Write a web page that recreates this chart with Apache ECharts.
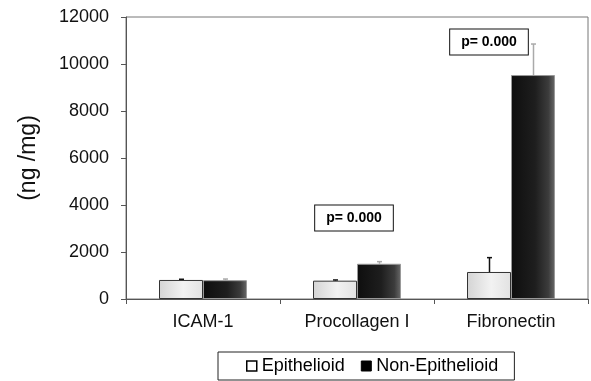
<!DOCTYPE html>
<html lang="en" style="height: 100%">
<head>
  <meta charset="utf-8">
</head>
<body style="height: 100%; margin: 0; background: #fff">
  <div id="container" style="width: 591px; height: 381px"></div>

  <script type="text/javascript" src="https://cdn.jsdelivr.net/npm/echarts@6/dist/echarts.min.js"></script>

  <script type="text/javascript">
    // data
    var categories = ['ICAM-1', 'Procollagen I', 'Fibronectin'];
    var epithelioid = [810, 780, 1150];
    var epithelioidErr = [840, 810, 1760];       // upper end of error bar
    var nonEpithelioid = [800, 1500, 9530];
    var nonEpithelioidErr = [850, 1590, 10850];
    var yTicks = [0, 2000, 4000, 6000, 8000, 10000, 12000];
    // p-value boxes: [category, value at box centre]
    var pBoxes = [['Procollagen I', 3450], ['Fibronectin', 10940]];
    var pText = 'p= 0.000';

    var FONT = '"Liberation Sans", Arial, sans-serif';
    var BAR_FRAC = 0.2857;   // bar width / band width

    var dom = document.getElementById('container');
    var myChart = echarts.init(dom, null, { renderer: 'canvas' });

    var epiColor = new echarts.graphic.LinearGradient(0, 0, 1, 0, [
      { offset: 0, color: '#d4d4d4' },
      { offset: 0.55, color: '#f2f2f2' },
      { offset: 1, color: '#e2e2e2' }
    ]);
    var nonColor = new echarts.graphic.LinearGradient(0, 0, 1, 0, [
      { offset: 0, color: '#0e0e0e' },
      { offset: 0.55, color: '#1e1e1e' },
      { offset: 0.85, color: '#3c3c3c' },
      { offset: 1, color: '#6a6a6a' }
    ]);

    function errorSeries(name, tops, bases, side, color) {
      return {
        type: 'custom',
        name: name + ' err',
        z: 1,
        silent: true,
        data: tops.map(function (v, i) { return [i, bases[i], v]; }),
        renderItem: function (params, api) {
          var band = api.size([1, 0])[0];
          var off = side * band * BAR_FRAC / 2;
          var p0 = api.coord([api.value(0), api.value(1)]);
          var p1 = api.coord([api.value(0), api.value(2)]);
          var x = Math.round(p0[0] + off) + 0.5;
          return {
            type: 'group',
            children: [
              { type: 'line', shape: { x1: x, y1: p0[1], x2: x, y2: p1[1] },
                style: { stroke: color, lineWidth: 1.5 } },
              { type: 'line', shape: { x1: x - 2.5, y1: p1[1], x2: x + 2.5, y2: p1[1] },
                style: { stroke: color, lineWidth: 1.5 } }
            ]
          };
        }
      };
    }

    var option = {
      animation: false,
      textStyle: { fontFamily: FONT },
      grid: {
        left: 126, right: 3, top: 17, bottom: 82,
        show: true, borderColor: '#777', borderWidth: 1
      },
      legend: {
        left: 218, top: 352,
        padding: [5, 16, 5, 28],
        borderColor: '#222', borderWidth: 1,
        itemWidth: 10, itemHeight: 10, itemGap: 16,
        textStyle: { fontSize: 18, color: '#000', fontFamily: FONT },
        data: [
          { name: 'Epithelioid', icon: 'rect',
            itemStyle: { color: '#fff', borderColor: '#000', borderWidth: 1.5 } },
          { name: 'Non-Epithelioid', icon: 'rect',
            itemStyle: { color: '#000', borderColor: '#000', borderWidth: 1 } }
        ]
      },
      xAxis: {
        type: 'category',
        data: categories,
        axisLine: { lineStyle: { color: '#555' } },
        axisTick: { show: true, length: 5, lineStyle: { color: '#555' } },
        axisLabel: { fontSize: 18, color: '#111', margin: 14, fontFamily: FONT }
      },
      yAxis: {
        type: 'value',
        min: yTicks[0], max: yTicks[yTicks.length - 1], interval: 2000,
        name: '(ng /mg)',
        nameLocation: 'middle',
        nameGap: 86,
        nameTextStyle: { fontSize: 23, color: '#111', fontFamily: FONT },
        axisLine: { show: true, lineStyle: { color: '#555' } },
        axisTick: { show: true, length: 5, lineStyle: { color: '#555' } },
        splitLine: { show: false },
        axisLabel: {
          fontSize: 18, color: '#111', margin: 17, fontFamily: FONT,
          formatter: function (v) { return String(v); }
        }
      },
      series: [
        {
          name: 'Epithelioid', type: 'bar', data: epithelioid,
          barWidth: (BAR_FRAC * 100) + '%', barGap: '0%',
          itemStyle: { color: epiColor, borderColor: '#333', borderWidth: 1 },
          z: 2
        },
        {
          name: 'Non-Epithelioid', type: 'bar', data: nonEpithelioid,
          barWidth: (BAR_FRAC * 100) + '%', barGap: '0%',
          itemStyle: { color: nonColor, borderColor: '#999', borderWidth: 1 },
          z: 2
        },
        errorSeries('Epithelioid', epithelioidErr, epithelioid, -1, '#111'),
        errorSeries('Non-Epithelioid', nonEpithelioidErr, nonEpithelioid, 1, '#aaa'),
        {
          type: 'custom',
          name: 'p',
          z: 5,
          silent: true,
          data: pBoxes.map(function (b) { return [categories.indexOf(b[0]), b[1]]; }),
          renderItem: function (params, api) {
            var band = api.size([1, 0])[0];
            var p = api.coord([api.value(0), api.value(1)]);
            // Fibronectin box sits over the first bar
            var dx = params.dataIndex === 1 ? -band * BAR_FRAC / 2 : -3;
            return {
              type: 'text',
              x: Math.round(p[0] + dx), y: Math.round(p[1]),
              style: {
                text: pText,
                font: 'bold 14px ' + FONT,
                fill: '#000',
                align: 'center', verticalAlign: 'middle',
                backgroundColor: '#fff',
                borderColor: '#111', borderWidth: 1,
                padding: [6, 11, 5, 11]
              }
            };
          }
        }
      ]
    };

    myChart.setOption(option);
    window.addEventListener('resize', myChart.resize);
  </script>
</body>
</html>
